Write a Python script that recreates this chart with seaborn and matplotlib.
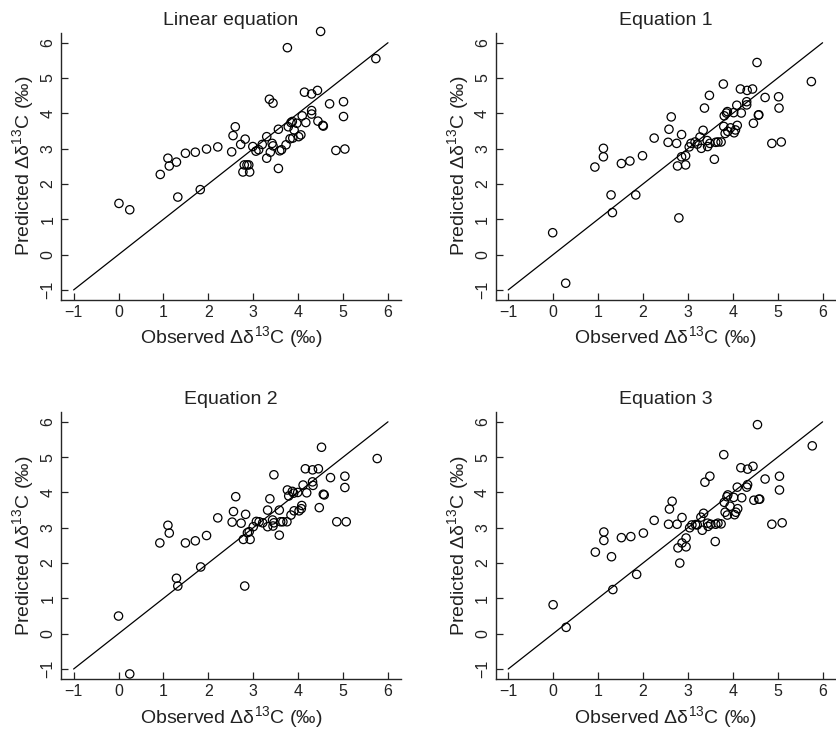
import numpy as np
import pandas as pd
import seaborn as sns
import matplotlib.pyplot as plt

# observed / predicted values
lin_obs = [0.01, 0.25, 0.93, 1.10, 1.13, 1.29, 1.32, 1.49, 1.71, 1.82, 1.96, 2.21, 2.52, 2.55, 2.60,
           2.72, 2.82, 2.80, 2.90, 2.77, 2.92, 2.86, 2.99, 3.06, 3.12, 3.20, 3.30, 3.30, 3.36, 3.44,
           3.42, 3.44, 3.38, 3.56, 3.56, 3.59, 3.63, 3.73, 3.76, 3.78, 3.84, 3.87, 3.82, 3.91, 3.88,
           3.97, 4.01, 4.06, 4.09, 4.14, 4.17, 4.30, 4.30, 4.30, 4.43, 4.44, 4.50, 4.55, 4.56, 4.70,
           4.84, 5.01, 5.01, 5.04, 5.73]
lin_pred = [1.45, 1.27, 2.27, 2.73, 2.51, 2.62, 1.63, 2.87, 2.90, 1.84, 2.99, 3.05, 2.91, 3.37, 3.62,
            3.12, 3.27, 2.54, 2.54, 2.34, 2.34, 2.54, 3.06, 2.93, 2.97, 3.12, 3.34, 2.73, 4.40, 4.29,
            3.15, 3.08, 2.90, 3.55, 2.44, 2.94, 2.97, 3.11, 5.86, 3.62, 3.74, 3.77, 3.28, 3.53, 3.30,
            3.72, 3.34, 3.39, 3.93, 4.60, 3.74, 4.55, 4.08, 3.98, 4.65, 3.78, 6.32, 3.66, 3.64, 4.27,
            2.95, 4.33, 3.91, 2.99, 5.55]

eq1_obs = [-0.01, 0.28, 0.93, 1.12, 1.12, 1.29, 1.32, 1.52, 1.71, 1.84, 1.99, 2.25, 2.56, 2.58, 2.63,
           2.75, 2.80, 2.77, 2.86, 2.86, 2.95, 2.95, 3.03, 3.07, 3.16, 3.21, 3.27, 3.30, 3.34, 3.37,
           3.43, 3.44, 3.48, 3.49, 3.59, 3.62, 3.67, 3.74, 3.79, 3.80, 3.81, 3.86, 3.88, 3.83, 3.89,
           3.95, 4.02, 4.03, 4.06, 4.10, 4.09, 4.17, 4.19, 4.31, 4.31, 4.32, 4.44, 4.46, 4.54, 4.57,
           4.58, 4.72, 4.87, 5.02, 5.03, 5.08, 5.75]
eq1_pred = [0.62, -0.81, 2.48, 2.77, 3.01, 1.69, 1.19, 2.58, 2.65, 1.69, 2.80, 3.30, 3.18, 3.55, 3.90,
            3.15, 1.04, 2.51, 3.40, 2.77, 2.54, 2.80, 3.05, 3.15, 3.19, 3.13, 3.33, 3.01, 3.52, 4.15,
            3.23, 3.06, 4.51, 3.15, 2.70, 3.18, 3.19, 3.19, 4.83, 3.63, 3.93, 4.01, 4.05, 3.43, 3.49,
            3.59, 4.02, 3.45, 3.53, 3.66, 4.23, 4.69, 4.01, 4.33, 4.24, 4.65, 4.69, 3.72, 5.44, 3.95,
            3.96, 4.45, 3.15, 4.47, 4.15, 3.19, 4.90]

eq2_obs = [0.00, 0.25, 0.92, 1.10, 1.13, 1.29, 1.32, 1.49, 1.71, 1.83, 1.96, 2.21, 2.53, 2.56, 2.61,
           2.73, 2.83, 2.81, 2.78, 2.93, 2.87, 2.91, 3.00, 3.07, 3.13, 3.21, 3.32, 3.32, 3.37, 3.46,
           3.43, 3.46, 3.44, 3.58, 3.58, 3.61, 3.66, 3.75, 3.76, 3.79, 3.84, 3.87, 3.90, 3.91, 3.99,
           4.02, 4.07, 4.08, 4.11, 4.16, 4.19, 4.32, 4.32, 4.33, 4.45, 4.47, 4.52, 4.56, 4.58, 4.72,
           4.86, 5.04, 5.04, 5.07, 5.76]
eq2_pred = [0.50, -1.14, 2.57, 3.07, 2.85, 1.57, 1.35, 2.57, 2.63, 1.89, 2.78, 3.28, 3.16, 3.46, 3.88,
            3.13, 3.38, 1.35, 2.67, 2.67, 2.86, 2.89, 3.03, 3.18, 3.17, 3.14, 3.50, 3.03, 3.82, 4.50,
            3.22, 3.14, 3.05, 3.50, 2.79, 3.17, 3.17, 3.17, 4.07, 3.90, 3.36, 4.03, 3.98, 3.48, 4.00,
            3.48, 3.54, 3.63, 4.21, 4.67, 3.99, 4.64, 4.30, 4.20, 4.67, 3.57, 5.28, 3.95, 3.93, 4.42,
            3.17, 4.46, 4.14, 3.17, 4.96]

eq3_obs = [0.00, 0.29, 0.94, 1.13, 1.13, 1.30, 1.33, 1.52, 1.73, 1.86, 2.01, 2.25, 2.57, 2.59, 2.65,
           2.76, 2.82, 2.78, 2.87, 2.87, 2.96, 2.96, 3.04, 3.09, 3.17, 3.21, 3.29, 3.32, 3.35, 3.38,
           3.44, 3.45, 3.49, 3.51, 3.61, 3.62, 3.67, 3.74, 3.80, 3.81, 3.83, 3.87, 3.89, 3.88, 3.94,
           4.02, 4.04, 4.07, 4.11, 4.10, 4.18, 4.20, 4.31, 4.33, 4.33, 4.45, 4.47, 4.55, 4.58, 4.60,
           4.72, 4.87, 5.04, 5.04, 5.10, 5.77]
eq3_pred = [0.82, 0.18, 2.31, 2.88, 2.64, 2.18, 1.25, 2.72, 2.75, 1.68, 2.85, 3.21, 3.10, 3.53, 3.75,
            3.10, 2.00, 2.43, 3.29, 2.57, 2.71, 2.46, 3.00, 3.08, 3.09, 3.08, 3.30, 2.93, 3.41, 4.29,
            3.13, 3.04, 4.46, 3.10, 2.61, 3.10, 3.13, 3.11, 5.07, 3.72, 3.44, 3.88, 3.93, 3.36, 3.61,
            3.86, 3.37, 3.44, 3.54, 4.15, 4.70, 3.85, 4.15, 4.22, 4.66, 4.74, 3.78, 5.92, 3.81, 3.81,
            4.38, 3.10, 4.46, 4.07, 3.14, 5.32]

titles = ['Linear equation', 'Equation 1', 'Equation 2', 'Equation 3']
ticks = [-1, 0, 1, 2, 3, 4, 5, 6]
one_to_one = [-1, 6]

sns.set_style('ticks')
plt.rcParams['font.family'] = ['Liberation Sans', 'DejaVu Sans']
plt.rcParams['mathtext.fontset'] = 'custom'
plt.rcParams['mathtext.rm'] = 'Liberation Sans'
plt.rcParams['mathtext.it'] = 'Liberation Sans:italic'

fig, axes = plt.subplots(2, 2, figsize=(8.36, 7.3), dpi=100)
plt.subplots_adjust(left=0.073, right=0.999, bottom=0.07, top=0.955, wspace=0.28, hspace=0.42)

data = [(lin_obs, lin_pred), (eq1_obs, eq1_pred), (eq2_obs, eq2_pred), (eq3_obs, eq3_pred)]

for ax, (obs, pred), title in zip(axes.flat, data, titles):
    df = pd.DataFrame({'obs': obs, 'pred': pred})
    ax.plot(one_to_one, one_to_one, color='black', lw=0.9)
    sns.scatterplot(data=df, x='obs', y='pred', ax=ax, marker='o', s=36,
                    facecolors='none', edgecolor='black', linewidth=0.9, clip_on=False)
    ax.set_xlim(-1.28, 6.28)
    ax.set_ylim(-1.28, 6.28)
    ax.set_xticks(ticks)
    ax.set_yticks(ticks)
    ax.tick_params(direction='in', length=5, width=0.9, labelsize=11.5, colors='#222222', pad=4)
    plt.setp(ax.get_yticklabels(), rotation=90, va='center')
    for side in ['top', 'right']:
        ax.spines[side].set_visible(False)
    for side in ['left', 'bottom']:
        ax.spines[side].set_linewidth(1.0)
    ax.set_title(title, fontsize=14, pad=6, color='#222222')
    ax.set_xlabel('Observed Δδ$^{13}$C (‰)', fontsize=14, color='#222222', labelpad=3)
    ax.set_ylabel('Predicted Δδ$^{13}$C (‰)', fontsize=14, color='#222222', labelpad=3)

plt.savefig('out.png', dpi=100)
